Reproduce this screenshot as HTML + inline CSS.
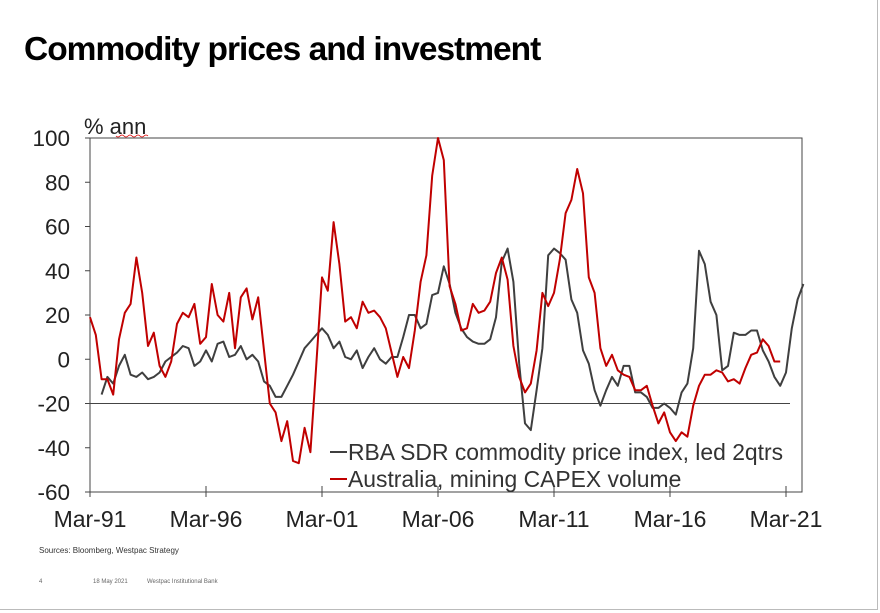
<!DOCTYPE html>
<html><head><meta charset="utf-8"><style>
body{margin:0;background:#fff;}
#wrap{position:relative;width:880px;height:613px;overflow:hidden;font-family:"Liberation Sans",Arial,sans-serif;}
</style></head><body>
<div id="wrap">
<div style="position:absolute;left:0;top:0;width:877px;height:609px;border-right:1px solid #bbb;border-bottom:1px solid #bbb;"></div>
<div style="position:absolute;left:24px;top:31px;font-size:33.5px;font-weight:bold;letter-spacing:-1px;color:#000;">Commodity prices and investment</div>
<svg id="chart" width="880" height="613" style="position:absolute;left:0;top:0;"></svg>
<div style="position:absolute;left:39px;top:546px;font-size:8px;color:#333;">Sources: Bloomberg, Westpac Strategy</div>
<div style="position:absolute;left:39px;top:579px;font-size:6px;color:#666;">4</div>
<div style="position:absolute;left:93px;top:579px;font-size:6px;color:#666;">18 May 2021</div>
<div style="position:absolute;left:147px;top:579px;font-size:6px;color:#666;">Westpac Institutional Bank</div>
</div>
<script>
const capex = [19,11,-9,-9,-16,9,21,25,46,30,6,12,-3,-8,-1,16,21,19,25,7,10,34,20,17,30,5,28,32,18,28,4,-20,-24,-37,-28,-46,-47,-31,-42,-3,37,31,62,43,17,19,14,26,21,22,19,14,3,-8,1,-4,13,35,47,83,100,90,33,25,13,14,25,21,22,26,39,46,36,6,-8,-15,-11,4,30,24,30,45,66,72,86,75,37,30,5,-3,2,-5,-7,-8,-14,-14,-12,-21,-29,-24,-33,-37,-33,-35,-21,-12,-7,-7,-5,-6,-10,-9,-11,-4,2,3,9,6,-1,-1];
const commodity = [null,null,-16,-8,-11,-3,2,-7,-8,-6,-9,-8,-6,-1,1,3,6,5,-3,-1,4,-1,7,8,1,2,6,0,2,-1,-10,-12,-17,-17,-12,-7,-1,5,8,11,14,11,5,8,1,0,4,-4,1,5,0,-2,1,1,10,20,20,14,16,29,30,42,34,21,14,10,8,7,7,9,19,44,50,35,-2,-29,-32,-14,5,47,50,48,45,27,21,4,-2,-14,-21,-14,-8,-12,-3,-3,-15,-15,-17,-22,-22,-20,-22,-25,-15,-11,5,49,43,26,20,-5,-3,12,11,11,13,13,4,-1,-8,-12,-6,14,27,34];
const yTicks = [100,80,60,40,20,0,-20,-40,-60];
const xLabels = ["Mar-91","Mar-96","Mar-01","Mar-06","Mar-11","Mar-16","Mar-21"];
const xLabelIdx = [0,20,40,60,80,100,120];

const NS="http://www.w3.org/2000/svg";
const svg=document.getElementById('chart');
const L=90,R=802,T=138,B=492;
const xS=i=>L+i*5.8;
const yS=v=>T+(100-v)*(B-T)/160;
const FF='Liberation Sans, Arial, sans-serif';
function mk(tag,attrs){const e=document.createElementNS(NS,tag);for(const k in attrs)e.setAttribute(k,attrs[k]);svg.appendChild(e);return e;}

let f=mk('rect',{x:L,y:T,width:R-L,height:B-T,fill:'none',stroke:'#444','stroke-width':1});


let z=mk('line',{x1:L,x2:790,y1:yS(-20),y2:yS(-20),stroke:'#444','stroke-width':1});



yTicks.forEach(v=>{
  let t=mk('line',{x1:L-5,x2:L,y1:yS(v),y2:yS(v),stroke:'#444'});
  
  
  let tx=mk('text',{x:70,y:yS(v)+8,'text-anchor':'end','font-size':22.5,fill:'#222','font-family':FF});
  tx.textContent=v;
  
  
});
xLabels.forEach((s,k)=>{
  const x=xS(xLabelIdx[k]);
  let t=mk('line',{x1:x,x2:x,y1:B-6,y2:B+5,stroke:'#444'});
  
  
  let tx=mk('text',{x:x,y:527,'text-anchor':'middle','font-size':23,fill:'#222','font-family':FF});
  tx.textContent=s;
  
  
});
let ua=mk('text',{x:84,y:134,'font-size':22,fill:'#222','font-family':FF});
ua.textContent='% ann';


let wv=mk('path',{d:'M116 136 q2 2 4 0 q2 -2 4 0 q2 2 4 0 q2 -2 4 0 q2 2 4 0 q2 -2 4 0 q2 2 4 0 q2 -2 4 0',fill:'none',stroke:'#d00','stroke-width':0.8});



function line(data,color,name){
  let d='';data.forEach((v,i)=>{if(v===null)return;d+=(d?'L':'M')+xS(i).toFixed(1)+' '+yS(v).toFixed(1);});
  let p=mk('path',{d:d,fill:'none',stroke:color,'stroke-width':2,'stroke-linejoin':'round'});
  
  
}
line(commodity,'#3f3f3f','commodity-price-line');
line(capex,'#c00000','mining-capex-line');

[[ '#3f3f3f','RBA SDR commodity price index, led 2qtrs',452],['#c00000','Australia, mining CAPEX volume',479]].forEach(([c,s,y],k)=>{
  let l=mk('line',{x1:330,x2:347,y1:y,y2:y,stroke:c,'stroke-width':2});
  
  
  let t=mk('text',{x:348,y:y+8,'font-size':22.9,fill:'#333','font-family':FF});
  t.textContent=s;
  
  
});
</script>
</body></html>
